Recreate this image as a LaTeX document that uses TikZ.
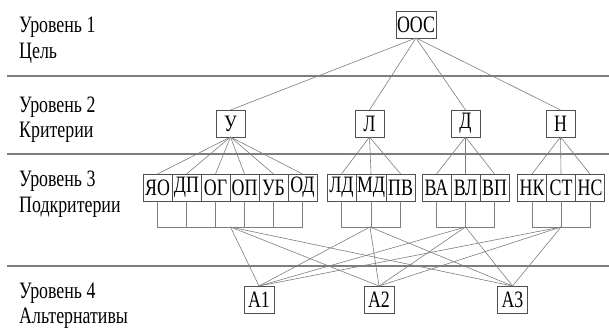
\documentclass[tikz,border=0pt]{standalone}
\usepackage{fontspec}
\setmainfont[FakeStretch=0.76]{Liberation Serif}
\usetikzlibrary{positioning}
\definecolor{linie}{RGB}{125,125,125}
\definecolor{rahmen}{RGB}{80,80,80}
\tikzset{
  box/.style={draw=rahmen, line width=0.6pt, minimum width=29pt, minimum height=27pt,
    inner sep=1pt, outer sep=0pt, font=\fontsize{23.5}{25}\selectfont},
  level/.style={anchor=base west, inner sep=0pt, font=\fontsize{23.5}{25}\selectfont},
  sep/.style={linie, line width=1.4pt},
  link/.style={linie, line width=0.6pt},
}

\begin{document}
\begin{tikzpicture}[x=1pt, y=-1pt]

    \useasboundingbox (0,0) rectangle (609,329);

    % Trennlinien
    \draw[sep] (7,76) -- (609,76);
    \draw[sep] (7,154) -- (609,154);
    \draw[sep] (7,266) -- (609,266);

    \node[level] (lvl1) at (19,33) {Уровень 1};
    \node[level] (goal) at (19,58) {Цель};
    \node[level] (lvl2) at (19,112) {Уровень 2};
    \node[level] (crit) at (19,137.5) {Критерии};
    \node[level] (lvl3) at (19,186) {Уровень 3};
    \node[level] (subcrit) at (19,212) {Подкритерии};
    \node[level] (lvl4) at (19,298) {Уровень 4};
    \node[level] (alt) at (19,323) {Альтернативы};

    \node[box, minimum width=40pt] (oos) at (416,24.5) {ООС};

    \node[box] (u) at (230.5,123.5) {У};
    \node[box] (l) at (369.5,123.5) {Л};
    \node[box] (d) at (465.5,123.5) {Д};
    \node[box] (n) at (560.5,123.5) {Н};

    \node[box] (yao) at (157.5,187.5) {ЯО};
    \node[box, right=0pt of yao] (dp) {ДП};
    \node[box, right=0pt of dp] (og) {ОГ};
    \node[box, right=0pt of og] (op) {ОП};
    \node[box, right=0pt of op] (ub) {УБ};
    \node[box, right=0pt of ub] (od) {ОД};

    \node[box] (ld) at (341.5,187.5) {ЛД};
    \node[box, right=0pt of ld] (md) {МД};
    \node[box, right=0pt of md] (pv) {ПВ};

    \node[box] (va) at (436.5,187.5) {ВА};
    \node[box, right=0pt of va] (vl) {ВЛ};
    \node[box, right=0pt of vl] (vp) {ВП};

    \node[box] (nk) at (532,187.5) {НК};
    \node[box, right=0pt of nk] (st) {СТ};
    \node[box, right=0pt of st] (ns) {НС};

    \node[box, minimum width=30pt] (a1) at (259,299.5) {А1};
    \node[box, minimum width=30pt] (a2) at (379,299.5) {А2};
    \node[box, minimum width=30pt] (a3) at (512.5,299.5) {А3};

    \coordinate (g1) at (230.5,227);
    \coordinate (g2) at (370,227);
    \coordinate (g3) at (465.5,227);
    \coordinate (g4) at (561,227);

    % Ziel -> Kriterien
    \draw[link] (oos.south) -- (u.north);
    \draw[link] (oos.south) -- (l.north);
    \draw[link] (oos.south) -- (d.north);
    \draw[link] (oos.south) -- (n.north);

    % Kriterien -> Unterkriterien
    \draw[link] (u.south) -- (yao.north);
    \draw[link] (u.south) -- (dp.north);
    \draw[link] (u.south) -- (og.north);
    \draw[link] (u.south) -- (op.north);
    \draw[link] (u.south) -- (ub.north);
    \draw[link] (u.south) -- (od.north);
    \draw[link] (l.south) -- (ld.north);
    \draw[link] (l.south) -- (md.north);
    \draw[link] (l.south) -- (pv.north);
    \draw[link] (d.south) -- (va.north);
    \draw[link] (d.south) -- (vl.north);
    \draw[link] (d.south) -- (vp.north);
    \draw[link] (n.south) -- (nk.north);
    \draw[link] (n.south) -- (st.north);
    \draw[link] (n.south) -- (ns.north);

    % Leitern unter den Unterkriterien
    \draw[link] (yao.south) -- (yao.south |- g1) -- (od.south |- g1) -- (od.south);
    \draw[link] (dp.south) -- (dp.south |- g1);
    \draw[link] (og.south) -- (og.south |- g1);
    \draw[link] (op.south) -- (op.south |- g1);
    \draw[link] (ub.south) -- (ub.south |- g1);
    \draw[link] (ld.south) -- (ld.south |- g2) -- (pv.south |- g2) -- (pv.south);
    \draw[link] (md.south) -- (md.south |- g2);
    \draw[link] (va.south) -- (va.south |- g3) -- (vp.south |- g3) -- (vp.south);
    \draw[link] (vl.south) -- (vl.south |- g3);
    \draw[link] (nk.south) -- (nk.south |- g4) -- (ns.south |- g4) -- (ns.south);
    \draw[link] (st.south) -- (st.south |- g4);

    % Unterkriterien -> Alternativen
    \draw[link] (g1) -- (a1.north);
    \draw[link] (g1) -- (a2.north);
    \draw[link] (g1) -- (a3.north);
    \draw[link] (g2) -- (a1.north);
    \draw[link] (g2) -- (a2.north);
    \draw[link] (g2) -- (a3.north);
    \draw[link] (g3) -- (a1.north);
    \draw[link] (g3) -- (a2.north);
    \draw[link] (g3) -- (a3.north);
    \draw[link] (g4) -- (a1.north);
    \draw[link] (g4) -- (a2.north);
    \draw[link] (g4) -- (a3.north);

\end{tikzpicture}
\end{document}
